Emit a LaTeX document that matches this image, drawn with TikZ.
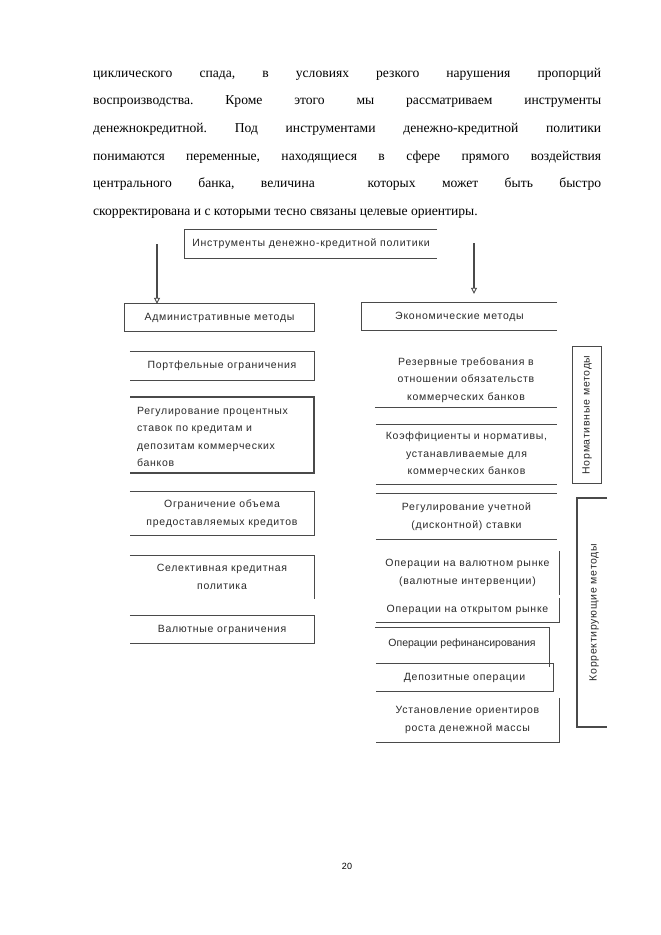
\documentclass[tikz,border=0pt]{standalone}
\usepackage{fontspec}
\setmainfont{Liberation Serif}
\newfontfamily\dsans[LetterSpace=7]{Liberation Sans}
\newfontfamily\pgsans{Liberation Sans}
\usetikzlibrary{arrows.meta}
\definecolor{edge}{HTML}{4A4A4A}
\definecolor{ink}{HTML}{2A2A2A}
\tikzset{
  para/.style={anchor=base west, inner sep=0pt, font=\frenchspacing\fontsize{13.6}{16}\selectfont},
  box/.style={draw=none, inner sep=0pt, align=center, text=ink,
     font=\dsans\fontsize{10.5}{17.5}\selectfont},
  rim/.style={draw=edge, line width=1.1pt},
  arr/.style={draw=edge, line width=1.6pt, -{Triangle[open, length=6pt, width=6pt, line width=0.9pt]}},
  vbox/.style={box, rotate=90}
}
\begin{document}
\begin{tikzpicture}[x=1pt,y=-1pt]
\useasboundingbox[fill=white] (0,0) rectangle (661,935);

% paragraph
\node[para] (p1) at (93,77)    {\makebox[508pt][s]{циклического спада, в условиях резкого нарушения пропорций}};
\node[para] (p2) at (93,104.5) {\makebox[508pt][s]{воспроизводства. Кроме этого мы рассматриваем инструменты}};
\node[para] (p3) at (93,132)   {\makebox[508pt][s]{денежнокредитной. Под инструментами денежно-кредитной политики}};
\node[para] (p4) at (93,160)   {\makebox[508pt][s]{понимаются переменные, находящиеся в сфере прямого воздействия}};
\node[para] (p5) at (93,187.5) {\makebox[508pt][s]{центрального банка, величина\ \ которых может быть быстро}};
\node[para] (p6) at (93,215)   {скорректирована и с которыми тесно связаны целевые ориентиры.};

% top box
\node[box, minimum width=252pt, minimum height=28pt] (top) at (311,244) {Инструменты денежно-кредитной политики};
\draw[rim] (top.north east) -- (top.north west) -- (top.south west) -- (top.south east);

% left column
\node[box, minimum width=189pt, minimum height=27pt] (adm) at (219.5,317.5) {Административные методы};
\draw[rim] (adm.north west) rectangle (adm.south east);

\node[box, minimum width=184pt, minimum height=28pt] (portf) at (222,366) {Портфельные ограничения};
\draw[rim] (portf.north west) -- (portf.north east) -- (portf.south east) -- (portf.south west);

\node[box, minimum width=180pt, minimum height=76pt, text width=170pt, align=left] (regproc) at (222,437)
  {Регулирование процентных\\ставок по кредитам и\\депозитам коммерческих\\банков};
\draw[rim] (130,397) coordinate (rpnw) -- (314,397) coordinate (rpne) -- (314,473) coordinate (rpse) -- (130,473) coordinate (rpsw);

\node[box, minimum width=184pt, minimum height=43pt] (ogran) at (222,513.5) {Ограничение объема\\предоставляемых кредитов};
\draw[rim] (ogran.north west) -- (ogran.north east) -- (ogran.south east) -- (ogran.south west);

\node[box, minimum width=184pt, minimum height=43pt] (select) at (222,577) {Селективная кредитная\\политика};
\draw[rim] (select.north west) -- (select.north east) -- (select.south east);

\node[box, minimum width=184pt, minimum height=27pt] (valut) at (222,629.5) {Валютные ограничения};
\draw[rim] (valut.north west) -- (valut.north east) -- (valut.south east) -- (valut.south west);

% right column
\node[box, minimum width=195pt, minimum height=27pt] (econ) at (459.5,316.5) {Экономические методы};
\draw[rim] (econ.north east) -- (econ.north west) -- (econ.south west) -- (econ.south east);

\node[box, minimum width=182pt, minimum height=54pt] (reserv) at (466,380) {Резервные требования в\\отношении обязательств\\коммерческих банков};
\draw[rim] (reserv.south west) -- (reserv.south east);

\node[box, minimum width=181pt, minimum height=59pt] (koef) at (466.5,454.5) {Коэффициенты и нормативы,\\устанавливаемые для\\коммерческих банков};
\draw[rim] (koef.north west) -- (koef.north east);
\draw[rim] (koef.south west) -- (koef.south east);

\node[box, minimum width=181pt, minimum height=46pt] (regucht) at (466.5,516.5) {Регулирование учетной\\(дисконтной) ставки};
\draw[rim] (regucht.north west) -- (regucht.north east);
\draw[rim] (regucht.south west) -- (regucht.south east);

\node[box, minimum width=183pt, minimum height=43pt] (valrynok) at (467.5,573) {Операции на валютном рынке\\(валютные интервенции)};
\draw[rim] (valrynok.north east) -- (valrynok.south east);

\node[box, minimum width=183pt, minimum height=24pt] (otkr) at (467.5,610) {Операции на открытом рынке};
\draw[rim] (otkr.north east) -- (otkr.south east) -- (otkr.south west);

\node[box, minimum width=174pt, minimum height=32pt, font=\pgsans\fontsize{10.5}{17.5}\selectfont] (refin) at (462,644) {Операции рефинансирования};
\draw[rim] (refin.north west) -- (refin.north east) -- ([yshift=-7pt]refin.south east);

\node[box, minimum width=177pt, minimum height=27pt] (depoz) at (464.5,677.5) {Депозитные операции};
\draw[rim] (depoz.north west) -- (depoz.north east) -- (depoz.south east) -- (depoz.south west);

\node[box, minimum width=183pt, minimum height=44pt] (ustan) at (467.5,720) {Установление ориентиров\\роста денежной массы};
\draw[rim] (ustan.north east) -- (ustan.south east) -- (ustan.south west);

% vertical boxes
\node[vbox, minimum width=136pt, minimum height=28pt] (norm) at (587,415) {Нормативные методы};
\draw[rim] (norm.north west) rectangle (norm.south east);

\node[vbox, minimum width=229pt, minimum height=30pt] (korr) at (594,612.5) {Корректирующие методы};
\coordinate (korrtl) at (577,498);
\coordinate (korrtr) at (607,498);
\coordinate (korrbl) at (577,727);
\coordinate (korrbr) at (607,727);
\draw[rim] (korrtr) -- (korrtl) -- (korrbl) -- (korrbr);

% arrows
\coordinate (la) at (157,244);
\coordinate (ra) at (474,243);
\draw[arr] (la) -- (la |- adm.north);
\draw[arr] (ra) -- ([yshift=9pt]ra |- econ.north);

% page number
\node[inner sep=0pt, font=\pgsans\fontsize{9}{10}\selectfont] (pg) at (347,866) {20};
\end{tikzpicture}
\end{document}
